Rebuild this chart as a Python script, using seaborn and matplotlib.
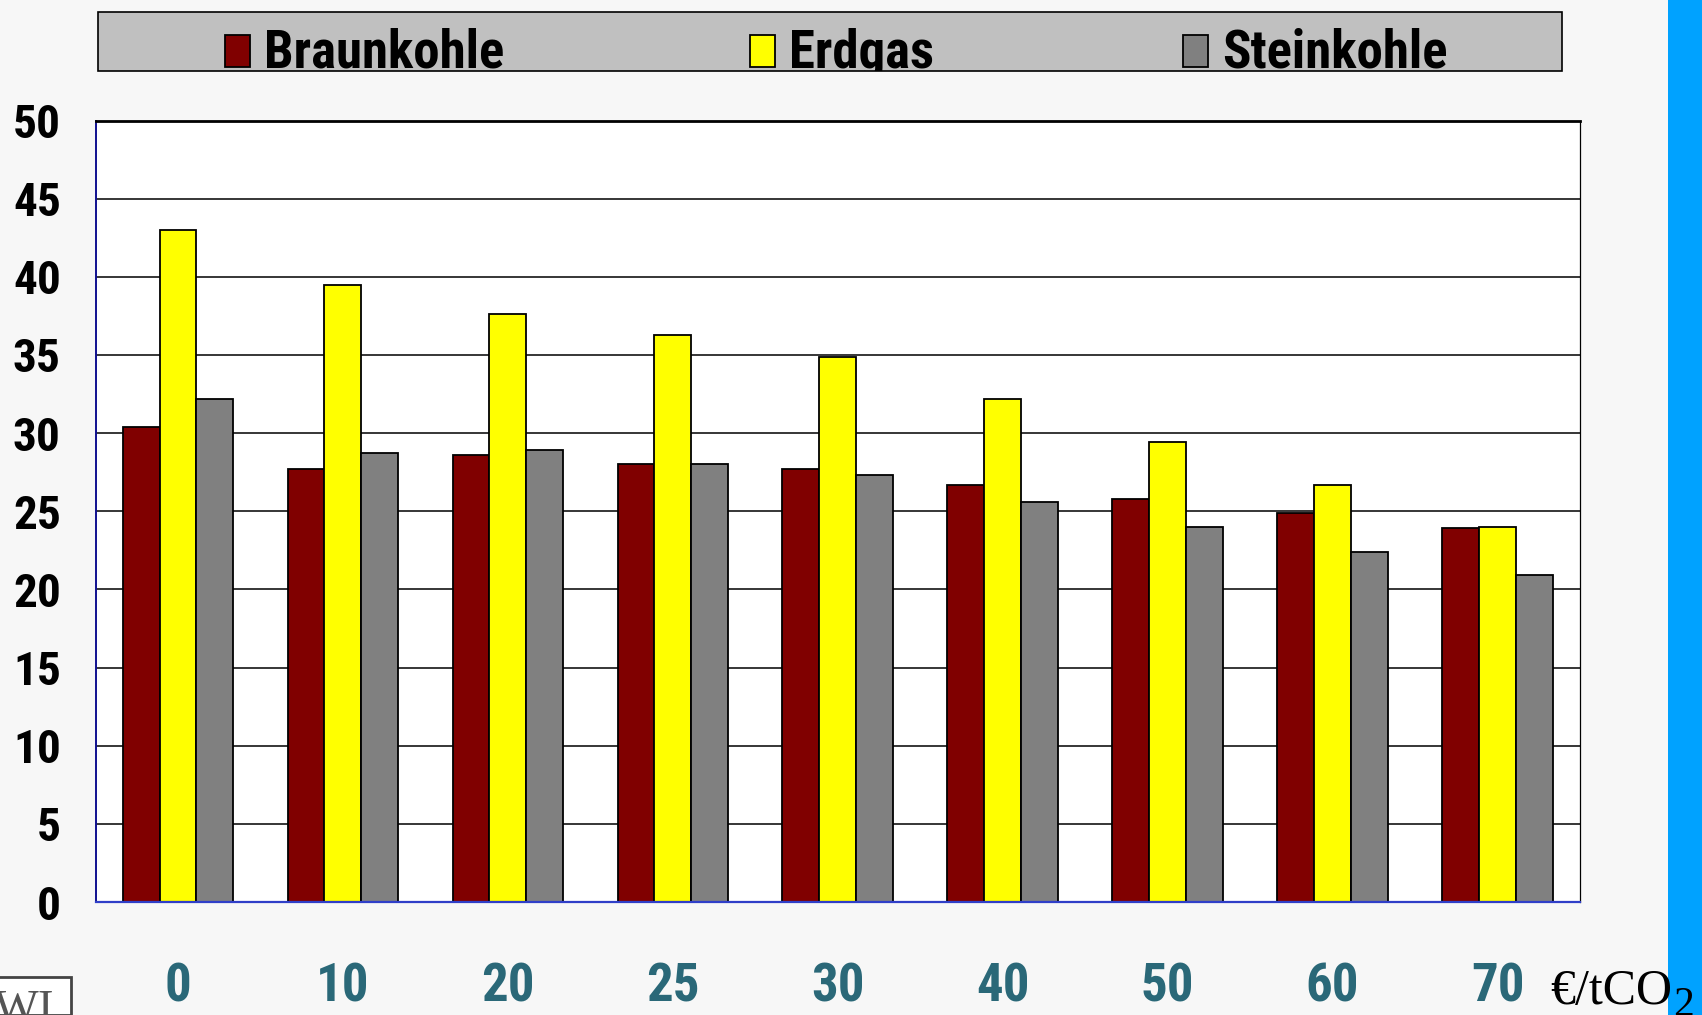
import numpy as np
import pandas as pd
import matplotlib
matplotlib.use("Agg")
import matplotlib.pyplot as plt
from matplotlib.patches import Rectangle
from matplotlib.text import Annotation
import seaborn as sns

# CO2-Preis (€/t) und Werte je Brennstoff
preise = ["0", "10", "20", "25", "30", "40", "50", "60", "70"]
braunkohle = [30.4, 27.7, 28.6, 28.05, 27.7, 26.7, 25.8, 24.9, 23.9]
erdgas = [43.0, 39.5, 37.6, 36.25, 34.9, 32.15, 29.4, 26.7, 24.0]
steinkohle = [32.15, 28.75, 28.9, 28.05, 27.3, 25.6, 24.0, 22.4, 20.9]
brennstoffe = ["Braunkohle", "Erdgas", "Steinkohle"]
farben = ["#800000", "#FFFF00", "#808080"]
y_ticks = [0, 5, 10, 15, 20, 25, 30, 35, 40, 45, 50]

df = pd.DataFrame({
    "Preis": preise * 3,
    "Wert": braunkohle + erdgas + steinkohle,
    "Brennstoff": np.repeat(brennstoffe, len(preise)),
})

sns.set_style("white")
narrow = ["Roboto Condensed", "Liberation Sans Narrow", "Roboto", "DejaVu Sans"]
serif = ["Liberation Serif", "DejaVu Serif"]
plt.rcParams["font.family"] = narrow
plt.rcParams["text.color"] = "black"

W, H = 1702, 1015
fig = plt.figure(figsize=(W / 100, H / 100), dpi=100, facecolor="#F7F7F7")


def px(x, y):
    # Pixel (von oben links) -> Figure-Koordinaten
    return x / W, 1 - y / H


ax = fig.add_axes([95.5 / W, 1 - 902 / H, (1580 - 95.5) / W, (902 - 120.5) / H])
ax.set_facecolor("white")

sns.barplot(data=df, x="Preis", y="Wert", hue="Brennstoff", hue_order=brennstoffe,
            palette=farben, saturation=1, width=0.67, edgecolor="black",
            linewidth=1.3, legend=False, ax=ax, zorder=3)

ax.set_xlim(-0.5, len(preise) - 0.5)
ax.set_ylim(0, 50)
ax.set_yticks(y_ticks)
ax.set_yticklabels([str(t) for t in y_ticks], fontsize=34, fontweight="bold", color="black")
ax.set_xlabel("")
ax.set_ylabel("")

# Gitterlinien
for t in y_ticks[1:-1]:
    ax.axhline(t, color="black", lw=1.1, zorder=1)

ax.set_xticks(np.arange(len(preise)))
ax.set_xticklabels(preise, fontsize=38, fontweight="bold", color="#2A6878")
ax.set_xticks(np.arange(-0.5, len(preise)), minor=True)
ax.tick_params(axis="x", which="major", length=0, pad=43)
ax.tick_params(axis="x", which="minor", length=11.5, width=1.3, color="#2F3FC8", direction="out")
ax.tick_params(axis="y", length=8, width=1.3, color="#101090", direction="out", pad=17)

ax.spines["left"].set_color("#101090")
ax.spines["left"].set_linewidth(1.4)
ax.spines["bottom"].set_color("#2F3FC8")
ax.spines["bottom"].set_linewidth(1.6)
ax.spines["top"].set_color("black")
ax.spines["top"].set_linewidth(2.0)
ax.spines["right"].set_color("black")
ax.spines["right"].set_linewidth(0.9)
for s in ax.spines.values():
    s.set_zorder(4)

# Legende als graue Leiste oben
x0, y0 = px(98, 71)
box = Rectangle((x0, y0), (1562 - 98) / W, (71 - 12) / H, transform=fig.transFigure,
                facecolor="#C0C0C0", edgecolor="black", lw=1.2)
fig.patches.append(box)
sq_x = [225, 750, 1183]
for name, col, sx in zip(brennstoffe, farben, sq_x):
    qx, qy = px(sx, 67)
    fig.patches.append(Rectangle((qx, qy), 25 / W, 32 / H, transform=fig.transFigure,
                                 facecolor=col, edgecolor="black", lw=1.3))
    tx, ty = px(sx + 39, 68)
    t = fig.text(tx, ty, name, fontsize=38, fontweight="bold", va="baseline", ha="left")
    t.set_clip_path(box)

# blaue Leiste rechts
fig.patches.append(Rectangle((1668 / W, 0), (W - 1668) / W, 1, transform=fig.transFigure,
                             facecolor="#00A2FF", edgecolor="none", zorder=0))

# Einheit €/tCO2 mit tiefgestellter 2
ux, uy = px(1550, 1004)
einheit = fig.text(ux, uy, "€/tCO", family=serif, fontsize=36, va="baseline", ha="left", zorder=5)
sub = Annotation("2", xy=(1, 0), xycoords=einheit, xytext=(1, -1), textcoords="offset points",
                 family=serif, fontsize=30, va="baseline", ha="left", annotation_clip=False)
sub.set_zorder(6)
fig.add_artist(sub)

# Logo-Rest unten links
lx, ly = px(0, 1015)
logo = Rectangle((lx - 0.01, ly), 71 / W + 0.01, 38 / H, transform=fig.transFigure,
                 facecolor="white", edgecolor="#444444", lw=2)
fig.patches.append(logo)
wx, wy = px(-6, 1021)
wt = fig.text(wx, wy, "WI", family=serif, fontsize=34, color="#555555", va="baseline")
wt.set_clip_path(logo)

fig.savefig("out.png", dpi=100, facecolor=fig.get_facecolor())
